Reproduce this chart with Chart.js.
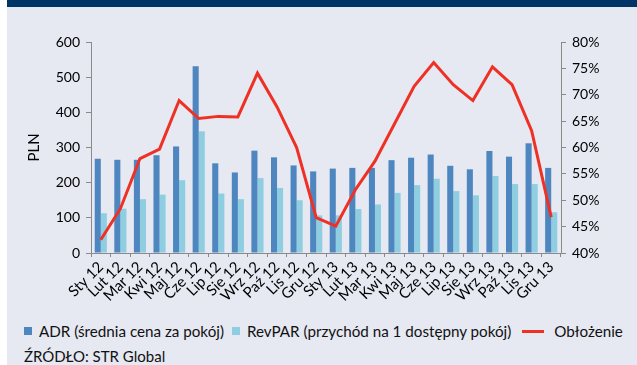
<!DOCTYPE html>
<html>
<head>
<meta charset="utf-8">
<script src="https://cdn.jsdelivr.net/npm/chart.js@4"></script>
<style>
  body { margin: 0; background: #fff; font-family: Lato, sans-serif; }
  #frame { position: absolute; left: 7px; top: 0; width: 630px; height: 365px; background: #E6E8F2; overflow: hidden; }
  #band { position: absolute; left: 0; top: 0; width: 630px; height: 7px; background: #003466; }
  #hotelChart { position: absolute; left: 0; top: 7px; }
  #legend { position: absolute; left: 17px; top: 322px; display: flex; align-items: center; font-size: 15.2px; color: #111; white-space: nowrap; }
  #legend .item { display: flex; align-items: center; margin-right: 8px; }
  #legend .swatch { display: inline-block; margin-right: 7px; }
  #source { position: absolute; left: 17px; top: 347px; font-size: 15px; color: #111; }
</style>
</head>
<body>
<div id="frame">
  <div id="band"></div>
  <canvas id="hotelChart" width="630" height="300"></canvas>
  <div id="legend"></div>
  <div id="source">ŹRÓDŁO: STR Global</div>
</div>
<script>
// Monthly hotel figures, 2012-2013
const months = ['Sty 12', 'Lut 12', 'Mar 12', 'Kwi 12', 'Maj 12', 'Cze 12', 'Lip 12', 'Sie 12', 'Wrz 12', 'Paź 12', 'Lis 12', 'Gru 12',
                'Sty 13', 'Lut 13', 'Mar 13', 'Kwi 13', 'Maj 13', 'Cze 13', 'Lip 13', 'Sie 13', 'Wrz 13', 'Paź 13', 'Lis 13', 'Gru 13'];
const adr = [268, 265, 265, 278, 303, 531, 255, 229, 291, 272, 249, 232, 240, 242, 242, 264, 271, 280, 248, 238, 290, 274, 312, 242];
const revpar = [113, 126, 153, 166, 207, 346, 169, 153, 213, 185, 150, 107, 107, 125, 138, 171, 193, 211, 176, 164, 219, 196, 196, 116];
const occupancy = [42.5, 48.4, 57.9, 59.7, 68.9, 65.5, 65.9, 65.8, 74.1, 67.7, 60.0, 46.7, 45.1, 52.0, 57.4, 64.5, 71.6, 76.1, 71.9, 68.9, 75.3, 71.9, 63.2, 46.8];

const plnTicks = [0, 100, 200, 300, 400, 500, 600];
const pctTicks = [40, 45, 50, 55, 60, 65, 70, 75, 80];

const axisGrey = '#8A8A8A';
const tickFont = { family: 'Lato', size: 14 };

const ctx = document.getElementById('hotelChart').getContext('2d');
const hotelChart = new Chart(ctx, {
  type: 'bar',
  data: {
    labels: months,
    datasets: [{
      label: 'ADR (średnia cena za pokój)',
      data: adr,
      backgroundColor: '#4E86C0',
      yAxisID: 'y',
      order: 1,
      categoryPercentage: 0.62,
      barPercentage: 1
    }, {
      label: 'RevPAR (przychód na 1 dostępny pokój)',
      data: revpar,
      backgroundColor: '#8ECEE0',
      yAxisID: 'y',
      order: 1,
      categoryPercentage: 0.62,
      barPercentage: 1
    }, {
      type: 'line',
      label: 'Obłożenie',
      data: occupancy,
      borderColor: '#EE3124',
      backgroundColor: '#EE3124',
      borderWidth: 3,
      pointRadius: 0,
      tension: 0,
      yAxisID: 'y1',
      order: 0
    }]
  },
  options: {
    responsive: false,
    animation: false,
    devicePixelRatio: 1,
    layout: { padding: { top: 35, right: 0, bottom: 0, left: 0 } },
    plugins: {
      legend: { display: false },
      tooltip: { enabled: false }
    },
    scales: {
      x: {
        grid: { offset: true, drawOnChartArea: false, drawTicks: true, tickLength: 4, color: axisGrey },
        border: { display: true, color: axisGrey, width: 1 },
        ticks: { color: '#000', font: { family: 'Lato', size: 15 }, minRotation: 45, maxRotation: 45, autoSkip: false, padding: 1 },
        afterFit: (scale) => { scale.height = 54; }
      },
      y: {
        position: 'left',
        min: 0,
        max: 600,
        afterBuildTicks: (scale) => { scale.ticks = plnTicks.map(v => ({ value: v })); },
        grid: { drawOnChartArea: false, drawTicks: true, tickLength: 5, color: axisGrey },
        border: { display: true, color: axisGrey, width: 1 },
        ticks: { color: '#000', font: tickFont, padding: 6 },
        title: { display: true, text: 'PLN', color: '#000', font: { family: 'Lato', size: 15 }, padding: { top: 18, bottom: 0 } },
        afterFit: (scale) => { scale.width = 84; }
      },
      y1: {
        position: 'right',
        min: 40,
        max: 80,
        afterBuildTicks: (scale) => { scale.ticks = pctTicks.map(v => ({ value: v })); },
        grid: { drawOnChartArea: false, drawTicks: true, tickLength: 5, color: axisGrey },
        border: { display: true, color: axisGrey, width: 1 },
        ticks: { color: '#000', font: tickFont, padding: 6, callback: (v) => v + '%' },
        afterFit: (scale) => { scale.width = 76; }
      }
    }
  }
});

// legend built from the chart's own datasets
const legendEl = document.getElementById('legend');
hotelChart.data.datasets.forEach((ds) => {
  const item = document.createElement('span');
  item.className = 'item';
  const swatch = document.createElement('span');
  swatch.className = 'swatch';
  if (ds.type === 'line') {
    swatch.style.width = '22px';
    swatch.style.height = '3px';
    swatch.style.marginLeft = '3px';
    swatch.style.marginRight = '10px';
    swatch.style.background = ds.borderColor;
  } else {
    swatch.style.width = '8px';
    swatch.style.height = '8px';
    swatch.style.background = ds.backgroundColor;
  }
  item.appendChild(swatch);
  item.appendChild(document.createTextNode(ds.label));
  legendEl.appendChild(item);
});
</script>
</body>
</html>
